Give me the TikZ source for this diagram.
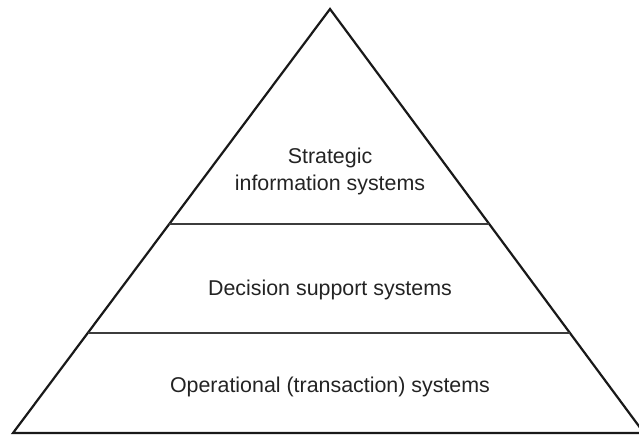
\documentclass[tikz,border=0pt]{standalone}
\usepackage{fontspec}
\setmainfont{Liberation Sans}
\usetikzlibrary{calc}
\definecolor{edgeblack}{RGB}{25,25,25}
\definecolor{textgray}{RGB}{35,35,35}

\begin{document}
\begin{tikzpicture}[x=1pt, y=-1pt,
			outline/.style={draw=edgeblack, line width=2.2pt, line join=miter},
			divider/.style={draw=edgeblack!85, line width=1.8pt},
			layertext/.style={font=\fontsize{21.4}{27}\selectfont, text=textgray, align=center, inner sep=0pt}]
			%Bildbereich
			\useasboundingbox (0,0) rectangle (639,436);
			% Ecken der Pyramide
			\coordinate (apex) at (330,9);
			\coordinate (left) at (13,433);
			\coordinate (right) at (644,433);
			% Trennlinien
			\coordinate (l1) at ($(apex)!0.507!(left)$);
			\coordinate (r1) at ($(apex)!0.507!(right)$);
			\coordinate (l2) at ($(apex)!0.764!(left)$);
			\coordinate (r2) at ($(apex)!0.764!(right)$);
			\draw[outline] (apex) -- (left) -- (right) -- cycle;
			\draw[divider] (l1) -- (r1);
			\draw[divider] (l2) -- (r2);
			%Beschriftung
			\node[layertext, anchor=base] (strategic) at (330,190) {Strategic\\information systems};
			\node[layertext, anchor=base] (decision) at (330,295) {Decision support systems};
			\node[layertext, anchor=base] (operational) at (330,392) {Operational (transaction) systems};
		\end{tikzpicture}
\end{document}
